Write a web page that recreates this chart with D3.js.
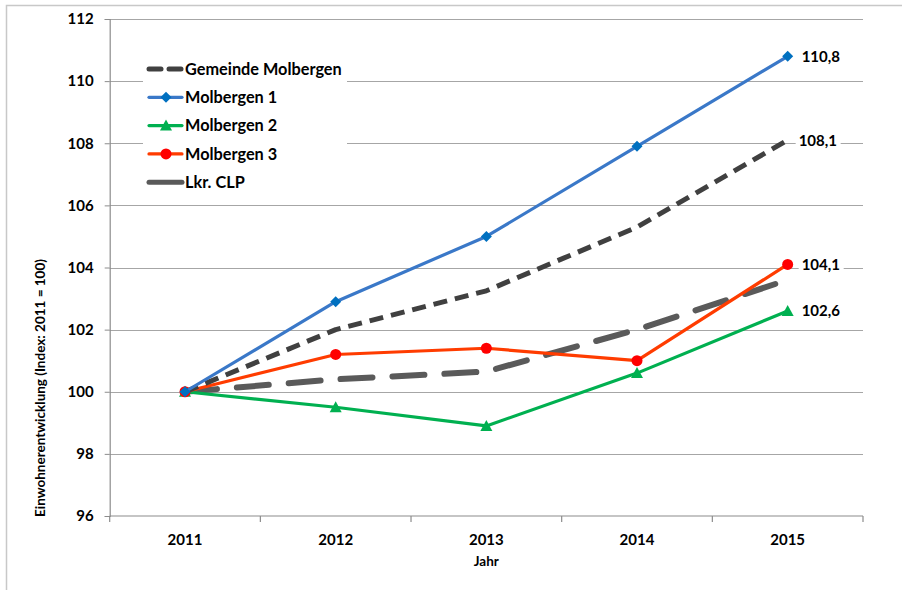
<!DOCTYPE html>
<html><head><meta charset="utf-8">
<script src="https://cdn.jsdelivr.net/npm/d3@7"></script>
<style>
body{margin:0;background:#fff;}
text{font-family:Lato,"Open Sans",sans-serif;font-weight:bold;fill:#000;}
</style></head>
<body><svg id="c" width="902" height="590"></svg>
<script>
const years = ["2011","2012","2013","2014","2015"];
const yTicks = [96,98,100,102,104,106,108,110,112];
const gemeinde = [100,102.0,103.25,105.3,108.1];
const molbergen1 = [100,102.9,105.0,107.9,110.8];
const molbergen2 = [100,99.5,98.9,100.6,102.6];
const molbergen3 = [100,101.2,101.4,101.0,104.1];
const lkrCLP = [100,100.4,100.65,102.0,103.6];
const endLabels = ["110,8","108,1","104,1","102,6"];

const series = [
  {name:"Gemeinde Molbergen", values:gemeinde, color:"#404040", width:5, dash:"14,8", cap:"butt", marker:null},
  {name:"Molbergen 1", values:molbergen1, color:"#3a78c8", width:3.2, dash:null, marker:"diamond", mcolor:"#0070c0"},
  {name:"Molbergen 2", values:molbergen2, color:"#00b050", width:3.2, dash:null, marker:"triangle", mcolor:"#00b050"},
  {name:"Molbergen 3", values:molbergen3, color:"#ff3c00", width:3.2, dash:null, marker:"circle", mcolor:"#ff0000"},
  {name:"Lkr. CLP", values:lkrCLP, color:"#5a5a5a", width:6, dash:"32,20", cap:"round", marker:null}
];
const drawOrder = [4,2,3,0,1];

const svg = d3.select("#c");
const L=109.7, R=863, T=19, B=516;
const xb = d3.scaleBand().domain(years).range([L,R]);
const x = d => xb(d)+xb.bandwidth()/2;
const y = d3.scaleLinear().domain([96,112]).range([B,T]);

// outer border
svg.append("rect").attr("x",6.5).attr("y",5.5).attr("width",1000).attr("height",1000)
  .attr("fill","none").attr("stroke","#c8c8c8").attr("stroke-width",1.5);

// gridlines
svg.append("g").selectAll("line").data(yTicks.filter(t=>t>96)).join("line")
  .attr("x1",L).attr("x2",R).attr("y1",d=>Math.round(y(d))+0.5).attr("y2",d=>Math.round(y(d))+0.5)
  .attr("stroke","#a6a6a6").attr("stroke-width",1.2);

// y axis
const ya = svg.append("g").attr("transform",`translate(${L},0)`)
  .call(d3.axisLeft(y).tickValues(yTicks).tickSize(5).tickPadding(11).tickFormat(d3.format("d")));
ya.select(".domain").attr("stroke","#8c8c8c").attr("stroke-width",1.2);
ya.selectAll(".tick line").attr("stroke","#8c8c8c");
ya.selectAll(".tick text").style("font-size","15px").attr("fill","#000");

// x axis
const xa = svg.append("g").attr("transform",`translate(0,${B})`);
xa.append("line").attr("x1",L).attr("x2",R).attr("stroke","#8c8c8c").attr("stroke-width",1.2);
const edges = years.map(d=>xb(d)).concat([R]);
xa.selectAll("line.t").data(edges).join("line").attr("class","t")
  .attr("x1",d=>d).attr("x2",d=>d).attr("y1",0).attr("y2",6).attr("stroke","#8c8c8c").attr("stroke-width",1.2);
xa.selectAll("text").data(years).join("text")
  .attr("x",d=>x(d)).attr("y",29).attr("text-anchor","middle").style("font-size","15px").text(d=>d);

// axis titles
svg.append("text").attr("x",xb("2013")+xb.bandwidth()/2).attr("y",566).attr("text-anchor","middle")
  .style("font-size","13.5px").text("Jahr");
svg.append("text").attr("transform","translate(45,388) rotate(-90)").attr("text-anchor","middle")
  .style("font-size","13.5px").text("Einwohnerentwicklung (Index: 2011 = 100)");

// lines
const line = d3.line().x((d,i)=>x(years[i])).y(d=>y(d));
function marker(g, type, cx, cy, color){
  if(type==="diamond") g.append("path").attr("d",`M${cx},${cy-5.5}L${cx+5.5},${cy}L${cx},${cy+5.5}L${cx-5.5},${cy}Z`).attr("fill",color);
  else if(type==="triangle") g.append("path").attr("d",`M${cx},${cy-6}L${cx+6},${cy+5}L${cx-6},${cy+5}Z`).attr("fill",color);
  else if(type==="circle") g.append("circle").attr("cx",cx).attr("cy",cy).attr("r",5.5).attr("fill",color);
}
drawOrder.forEach(i=>{
  const s = series[i];
  const g = svg.append("g");
  g.append("path").datum(s.values).attr("d",line).attr("fill","none")
    .attr("stroke",s.color).attr("stroke-width",s.width)
    .attr("stroke-dasharray",s.dash).attr("stroke-linecap",s.cap||"round").attr("stroke-linejoin","round");
  if(s.marker) s.values.forEach((v,k)=>marker(g,s.marker,x(years[k]),y(v),s.mcolor));
});

// end labels
const labelData = [
  {v:molbergen1[4], t:endLabels[0], dx:14},
  {v:gemeinde[4], t:endLabels[1], dx:11},
  {v:molbergen3[4], t:endLabels[2], dx:14},
  {v:molbergen2[4], t:endLabels[3], dx:14}
];
labelData.forEach(d=>{
  const tx = x("2015")+d.dx, ty = y(d.v);
  svg.append("rect").attr("x",tx-3).attr("y",ty-9).attr("width",45).attr("height",18).attr("fill","#fff");
  svg.append("text").attr("x",tx).attr("y",ty).attr("dy","0.36em").style("font-size","15px").text(d.t);
});

// legend
const lg = svg.append("g");
lg.append("rect").attr("x",143).attr("y",50).attr("width",204).attr("height",145).attr("fill","#fff");
series.forEach((s,i)=>{
  const ly = 69 + i*28.3;
  const g = lg.append("g");
  if(i===0){
    g.append("line").attr("x1",149).attr("x2",161).attr("y1",ly).attr("y2",ly).attr("stroke",s.color).attr("stroke-width",5).attr("stroke-linecap","round");
    g.append("line").attr("x1",169).attr("x2",181).attr("y1",ly).attr("y2",ly).attr("stroke",s.color).attr("stroke-width",5).attr("stroke-linecap","round");
  } else {
    g.append("line").attr("x1",149).attr("x2",182).attr("y1",ly).attr("y2",ly).attr("stroke",s.color)
      .attr("stroke-width", i===4?5:3.2).attr("stroke-linecap","round");
    if(s.marker) marker(g,s.marker,166,ly,s.mcolor);
  }
  g.append("text").attr("x",185).attr("y",ly).attr("dy","0.36em").style("font-size","16.3px").text(s.name);
});
</script></body></html>
